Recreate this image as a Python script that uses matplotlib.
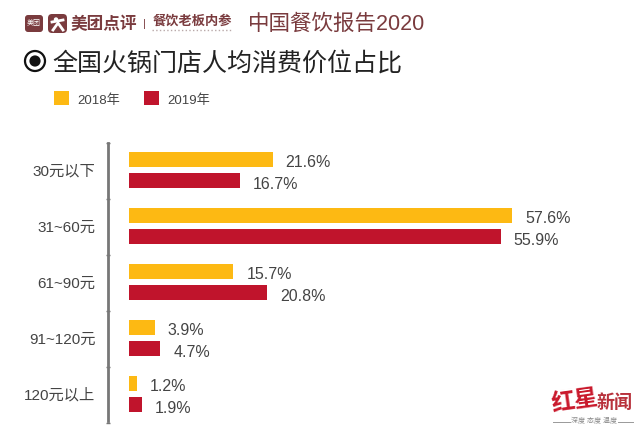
import numpy as np
import matplotlib
matplotlib.use('Agg')
import matplotlib.pyplot as plt
from matplotlib.patches import Rectangle, Circle, FancyBboxPatch

plt.rcParams['font.family'] = ['Liberation Sans', 'Noto Sans CJK SC']

W, H = 640, 432

categories = ['30元以下', '31~60元', '61~90元', '91~120元', '120元以上']
values_2018 = [21.6, 57.6, 15.7, 3.9, 1.2]
values_2019 = [16.7, 55.9, 20.8, 4.7, 1.9]
years = ['2018年', '2019年']

GOLD = '#fdb913'
RED = '#c0142c'
BROWN = '#7a3b3e'
TEXT = '#444444'

fig = plt.figure(figsize=(W / 100, H / 100), dpi=100)

# overlay in pixel coordinates for header and logos
bg = fig.add_axes([0, 0, 1, 1])
bg.set_xlim(0, W)
bg.set_ylim(H, 0)
bg.axis('off')

# chart axes: spine sits at x=108, zero of the bars at x=129
left, right, top, bottom = 108, 620, 141.75, 423
px_per_unit = 6.65
ax = fig.add_axes([left / W, 1 - bottom / H, (right - left) / W, (bottom - top) / H])
ax.patch.set_alpha(0)
y = np.arange(len(categories))
ax.barh(y - 0.185, values_2018, height=0.27, color=GOLD)
ax.barh(y + 0.185, values_2019, height=0.27, color=RED)
ax.set_xlim(-21 / px_per_unit, (right - 129) / px_per_unit)
ax.set_ylim(4.478, -0.5)
ax.set_yticks(y)
ax.set_yticklabels(categories, fontsize=11, color=TEXT)
ax.set_yticks(np.arange(-0.48, 4.6, 1), minor=True)
ax.set_xticks([])
ax.tick_params(axis='y', which='major', length=0, pad=9)
ax.tick_params(axis='y', which='minor', length=3, width=1, direction='inout', color='#777777')
for s in ['top', 'right', 'bottom']:
    ax.spines[s].set_visible(False)
ax.spines['left'].set_color('#777777')
ax.spines['left'].set_linewidth(2)
ax.spines['left'].set_bounds(-0.48, 4.478)

for i, (a, b) in enumerate(zip(values_2018, values_2019)):
    ax.annotate(f'{a}%', (a, i - 0.185), xytext=(13, -3), textcoords='offset pixels',
                va='center', fontsize=11.5, color=TEXT)
    ax.annotate(f'{b}%', (b, i + 0.185), xytext=(13, -4), textcoords='offset pixels',
                va='center', fontsize=11.5, color=TEXT)

# logos
bg.add_patch(FancyBboxPatch((25, 15), 18, 17, boxstyle='round,pad=0,rounding_size=3', color=BROWN, lw=0))
bg.text(34, 23.5, '美团', fontsize=5, color='white', ha='center', va='center')
bg.add_patch(FancyBboxPatch((48, 14), 19, 19, boxstyle='round,pad=0,rounding_size=4', color=BROWN, lw=0))
bg.add_patch(Circle((56, 19.5), 2.2, color='white', lw=0))
bg.plot([52, 63], [22, 20], color='white', lw=2)
bg.plot([53, 58, 63], [30, 23, 30], color='white', lw=2)
bg.text(71, 24, '美团点评', fontsize=12, color=BROWN, va='center', fontweight='bold')
bg.text(144, 24, '|', fontsize=8, color=BROWN, va='center', ha='center')
bg.text(153, 21, '餐饮老板内参', fontsize=9.5, color=BROWN, va='center', fontweight='bold')
bg.plot([152, 231], [30, 30], color='#b9a9a9', lw=1, ls=':')
bg.text(248, 24, '中国餐饮报告2020', fontsize=15.5, color=BROWN, va='center')

# title
bg.add_patch(Circle((35, 61), 10, fc='white', ec='#111111', lw=1.6))
bg.add_patch(Circle((35, 61), 5.6, color='#111111', lw=0))
bg.text(52, 64, '全国火锅门店人均消费价位占比', fontsize=18, color='#222222', va='center')

# legend
bg.add_patch(Rectangle((54, 91), 15, 14, color=GOLD, lw=0))
bg.text(77, 100.5, years[0], fontsize=9.5, color=TEXT, va='center')
bg.add_patch(Rectangle((144, 91), 15, 14, color=RED, lw=0))
bg.text(167, 100.5, years[1], fontsize=9.5, color=TEXT, va='center')

# watermark
bg.text(575, 401, '红星', fontsize=17, color='#c9182b', va='center', ha='center', fontweight='bold', rotation=8)
bg.text(615, 403, '新闻', fontsize=13, color='#b8323c', va='center', ha='center', fontweight='bold')
bg.plot([553, 570], [422, 422], color='#999999', lw=0.7)
bg.plot([618, 633], [422, 422], color='#999999', lw=0.7)
bg.text(594, 422, '深度 态度 温度', fontsize=5, color='#888888', va='center', ha='center')

fig.savefig('out.png', dpi=100)
